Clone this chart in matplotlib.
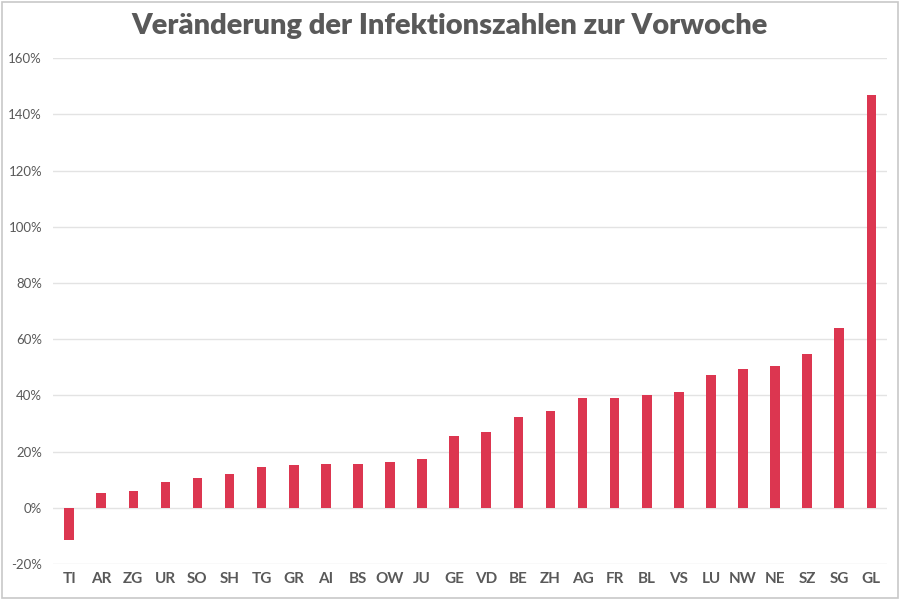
import numpy as np
import matplotlib.pyplot as plt
from matplotlib.ticker import FuncFormatter
from matplotlib.patches import Rectangle

# Kantone und Veränderung zur Vorwoche (%)
kantone = ['TI', 'AR', 'ZG', 'UR', 'SO', 'SH', 'TG', 'GR', 'AI', 'BS', 'OW', 'JU', 'GE',
           'VD', 'BE', 'ZH', 'AG', 'FR', 'BL', 'VS', 'LU', 'NW', 'NE', 'SZ', 'SG', 'GL']
veraenderung = [-11.4, 5.1, 5.9, 9.1, 10.7, 12.1, 14.5, 15.4, 15.6, 15.6, 16.2, 17.5, 25.6,
                26.9, 32.3, 34.4, 38.9, 39.1, 40.0, 41.1, 47.3, 49.4, 50.5, 54.8, 64.0, 146.8]
y_ticks = [-20, 0, 20, 40, 60, 80, 100, 120, 140, 160]

plt.rcParams['font.family'] = ['Lato', 'DejaVu Sans']

fig = plt.figure(figsize=(9, 6), dpi=100)
ax = fig.add_axes([0.059, 0.06, 0.927, 0.843])

x = np.arange(len(kantone))
ax.bar(x, veraenderung, width=0.3, color='#DC3650', zorder=3)

ax.set_xlim(-0.5, len(kantone) - 0.5)
ax.set_ylim(-20, 160)
ax.set_yticks(y_ticks)
ax.yaxis.set_major_formatter(FuncFormatter(lambda v, p: f'{int(v)}%'))
ax.grid(axis='y', color='#e3e3e3', linewidth=1, zorder=0)

ax.set_xticks(x)
ax.set_xticklabels(kantone, fontsize=11, fontweight='bold', color='#595959')
ax.tick_params(axis='y', labelsize=9.5, labelcolor='#595959', length=0, pad=8)
ax.tick_params(axis='x', length=0, pad=6)
for s in ax.spines.values():
    s.set_visible(False)

fig.suptitle('Veränderung der Infektionszahlen zur Vorwoche', x=0.5, y=0.978,
             fontsize=21, fontweight='heavy', color='#595959')

# Rahmen um das Bild
fig.patches.append(Rectangle((0.002, 0.003), 0.996, 0.994, transform=fig.transFigure,
                             fill=False, edgecolor='#c8c8c8', linewidth=1.2))

fig.savefig('out.png', dpi=100)
